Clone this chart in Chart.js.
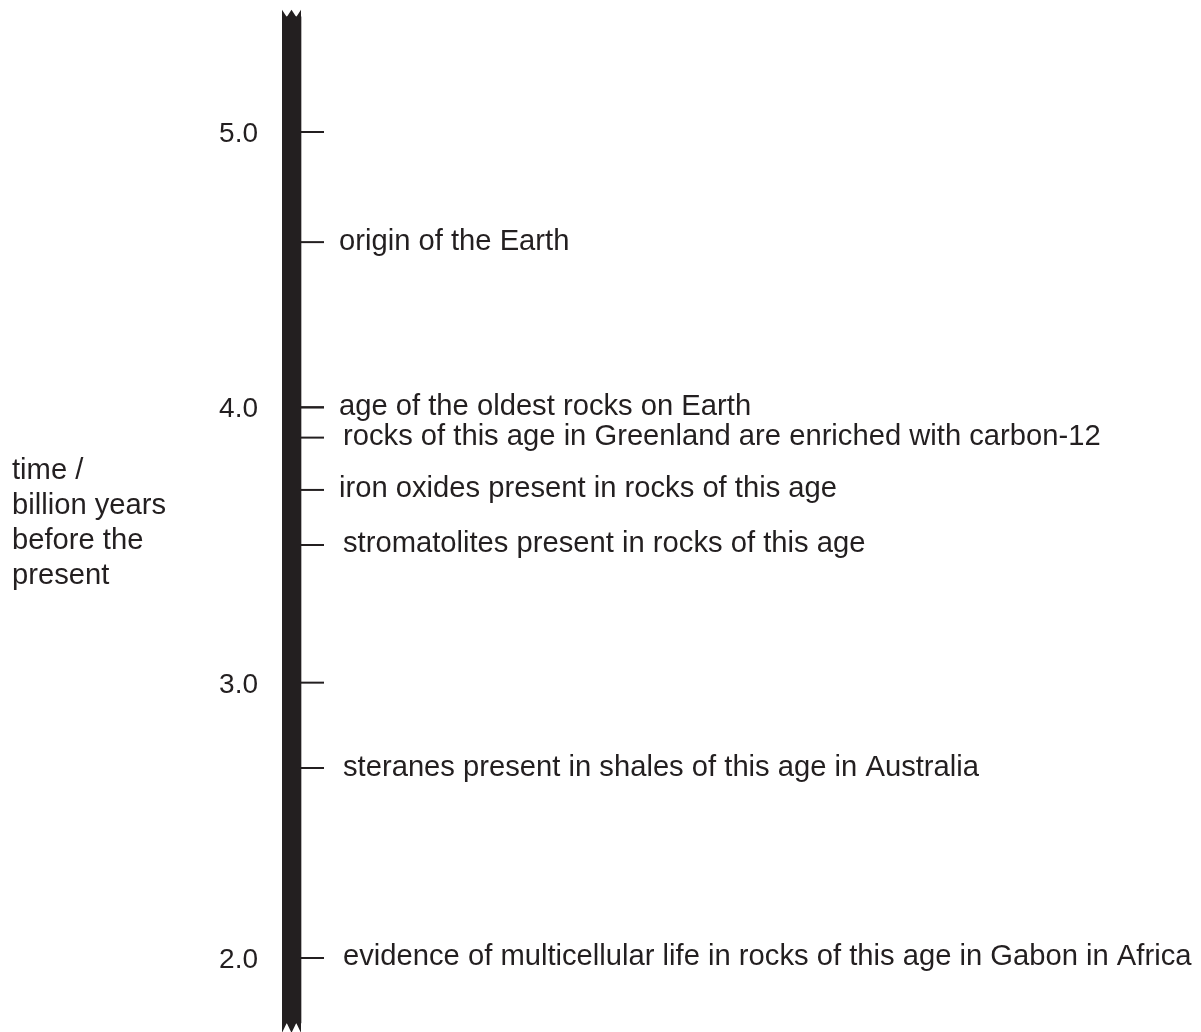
<!DOCTYPE html>
<html>
<head>
<meta charset="utf-8">
<script src="https://cdn.jsdelivr.net/npm/chart.js@4.4.1/dist/chart.umd.min.js"></script>
<style>
  html, body { margin: 0; padding: 0; background: #ffffff; }
  canvas { display: block; }
</style>
</head>
<body>
<canvas id="chart" width="1201" height="1032"></canvas>
<script>
// ---- data ----
const tickValues = [2.0, 3.0, 4.0, 5.0];
const tickLabels = ['2.0', '3.0', '4.0', '5.0'];
const eventAges = [4.6, 4.0, 3.89, 3.7, 3.5, 2.69, 2.0];
const eventLabels = [
  'origin of the Earth',
  'age of the oldest rocks on Earth',
  'rocks of this age in Greenland are enriched with carbon-12',
  'iron oxides present in rocks of this age',
  'stromatolites present in rocks of this age',
  'steranes present in shales of this age in Australia',
  'evidence of multicellular life in rocks of this age in Gabon in Africa'
];
const timelineSpan = [1.764, 5.418];   // body of the time bar (billion years)
const timelineTeeth = [1.728, 5.444];  // tips of the torn ends
const axisRange = [1.7312, 5.4794];
const axisTitleLines = ['time /', 'billion years', 'before the', 'present'];

// ---- style ----
const INK = '#231f20';
const FONT = "'Liberation Sans', Arial, Helvetica, sans-serif";
const TICK_FONT = 28;
const LABEL_FONT = 29.2;
const AXIS_WIDTH = 282;
const BAR_X = 9.5, BAR_W = 19;           // x-units == px offset from chart area left
const TICK_X = 30.5, TICK_HALF = 11.5;
const labelShift = [0, 0, 4, 0, 4, 4, 4];

const tornEnds = {
  id: 'tornEnds',
  afterDatasetsDraw(chart) {
    const bar = chart.getDatasetMeta(0).data[0];
    const y = chart.scales.y;
    const l = bar.x - bar.width / 2, r = bar.x + bar.width / 2, m = bar.x;
    const q1 = l + bar.width * 0.25, q3 = l + bar.width * 0.75;
    const ctx = chart.ctx;
    ctx.save();
    ctx.fillStyle = INK;
    const topV = y.getPixelForValue(timelineSpan[1]), topT = y.getPixelForValue(timelineTeeth[1]);
    const botV = y.getPixelForValue(timelineSpan[0]), botT = y.getPixelForValue(timelineTeeth[0]);
    ctx.beginPath();
    ctx.moveTo(l, topV + 1); ctx.lineTo(l, topT); ctx.lineTo(q1, topV); ctx.lineTo(m, topT);
    ctx.lineTo(q3, topV); ctx.lineTo(r, topT); ctx.lineTo(r, topV + 1); ctx.closePath(); ctx.fill();
    ctx.beginPath();
    ctx.moveTo(l, botV - 1); ctx.lineTo(l, botT); ctx.lineTo(q1, botV); ctx.lineTo(m, botT);
    ctx.lineTo(q3, botV); ctx.lineTo(r, botT); ctx.lineTo(r, botV - 1); ctx.closePath(); ctx.fill();
    ctx.restore();
  }
};

const textLayer = {
  id: 'textLayer',
  afterDatasetsDraw(chart) {
    const ctx = chart.ctx;
    const y = chart.scales.y;
    ctx.save();
    ctx.fillStyle = INK;
    ctx.textBaseline = 'alphabetic';
    // axis tick labels
    ctx.font = TICK_FONT + 'px ' + FONT;
    ctx.textAlign = 'right';
    tickValues.forEach((v, i) => {
      ctx.fillText(tickLabels[i], chart.chartArea.left - 24, y.getPixelForValue(v) + 10);
    });
    // event labels
    ctx.font = LABEL_FONT + 'px ' + FONT;
    ctx.textAlign = 'left';
    chart.getDatasetMeta(1).data.forEach((p, i) => {
      ctx.fillText(eventLabels[i], p.x + TICK_HALF + 15 + labelShift[i], p.y + 7.5);
    });
    // axis title
    const baselines = [479, 514, 549, 583.5];
    axisTitleLines.forEach((t, i) => ctx.fillText(t, 12, baselines[i]));
    ctx.restore();
  }
};

new Chart(document.getElementById('chart'), {
  data: {
    datasets: [
      {
        type: 'bar',
        data: [{ x: BAR_X, y: timelineSpan }],
        backgroundColor: INK,
        borderWidth: 0,
        barThickness: BAR_W
      },
      {
        type: 'scatter',
        data: eventAges.map(a => ({ x: TICK_X, y: a })),
        pointStyle: 'line',
        pointRadius: TICK_HALF,
        pointHoverRadius: TICK_HALF,
        borderColor: INK,
        borderWidth: 2
      },
      {
        type: 'scatter',
        data: tickValues.map(v => ({ x: TICK_X, y: v })),
        pointStyle: 'line',
        pointRadius: TICK_HALF,
        pointHoverRadius: TICK_HALF,
        borderColor: INK,
        borderWidth: 2
      }
    ]
  },
  options: {
    responsive: false,
    animation: false,
    devicePixelRatio: 1,
    layout: { padding: 0, autoPadding: false },
    plugins: { legend: { display: false }, tooltip: { enabled: false } },
    events: [],
    scales: {
      x: { type: 'linear', display: false, min: 0, max: 919, offset: false },
      y: {
        type: 'linear',
        min: axisRange[0],
        max: axisRange[1],
        border: { display: false },
        grid: { display: false, drawTicks: false },
        afterBuildTicks: s => { s.ticks = tickValues.map(v => ({ value: v })); },
        afterFit: s => { s.width = AXIS_WIDTH; s.paddingTop = 0; s.paddingBottom = 0; },
        ticks: { display: false }
      }
    }
  },
  plugins: [tornEnds, textLayer]
});
</script>
</body>
</html>
